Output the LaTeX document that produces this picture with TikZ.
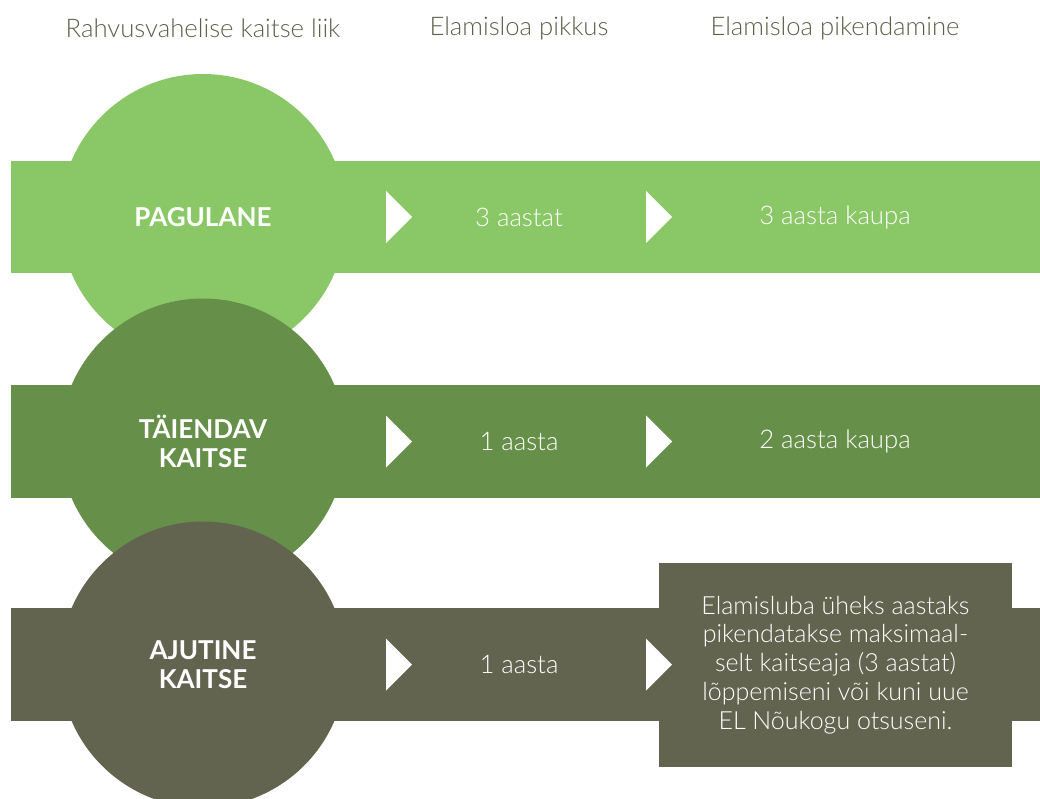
\documentclass[tikz,border=0pt]{standalone}
\usepackage{fontspec}
\setmainfont{Lato}
\IfFontExistsTF{Lato Light}{\newfontfamily\lightfont{Lato Light}}{\newfontfamily\lightfont{Lato}}
\usetikzlibrary{positioning}
\definecolor{cA}{HTML}{8AC767}
\definecolor{cB}{HTML}{668F4A}
\definecolor{cC}{HTML}{636450}
\definecolor{hd}{HTML}{5E5E4A}
\tikzset{
  band/.style={draw=none, inner sep=0pt, minimum width=1029pt, minimum height=112.5pt},
  disc/.style={circle, draw=none, inner sep=0pt, minimum size=286pt},
  head/.style={text=hd, font=\lightfont\fontsize{25.7}{29}\selectfont, inner sep=0pt},
  lab/.style={text=white, font=\fontsize{26}{29}\selectfont\bfseries, align=center, inner sep=0pt},
  val/.style={text=white, font=\lightfont\fontsize{25.7}{29}\selectfont, align=center, inner sep=0pt},
}
\begin{document}
\begin{tikzpicture}[x=1pt,y=-1pt]
\useasboundingbox (0,0) rectangle (1040,798);
\clip (0,0) rectangle (1040,798);
% headers
\node[head] (h1) at (203,28) {Rahvusvahelise kaitse liik};
\node[head] (h2) at (519,28) {Elamisloa pikkus};
\node[head] (h3) at (835,28) {Elamisloa pikendamine};
% bands
\node[band, fill=cA] (b1) at (525.5,217) {};
\node[band, fill=cB] (b2) at (525.5,441.5) {};
\node[band, fill=cC] (b3) at (525.5,664.5) {};
% discs
\node[disc, fill=cA] (d1) at (203,217) {};
\node[disc, fill=cB] (d2) at (203,441.5) {};
\node[disc, fill=cC] (d3) at (203,664.5) {};
% box row 3
\node[fill=cC, minimum width=353pt, minimum height=204pt, inner sep=0pt] (bx) at (835.5,665) {};
% triangles
\foreach \yy in {217,441.5,664.5}{
  \fill[white] (386,\yy-26) -- (412,\yy) -- (386,\yy+26) -- cycle;
  \fill[white] (646,\yy-26) -- (672,\yy) -- (646,\yy+26) -- cycle;
}
% labels
\node[lab] (l1) at (203,217) {PAGULANE};
\node[lab] (l2) at (203,441.5) {TÄIENDAV\\KAITSE};
\node[lab] (l3) at (203,664.5) {AJUTINE\\KAITSE};
% values
\node[val] (v1) at (519,217) {3 aastat};
\node[val] (w1) at (835,217) {3 aasta kaupa};
\node[val] (v2) at (519,441.5) {1 aasta};
\node[val] (w2) at (835,441.5) {2 aasta kaupa};
\node[val] (v3) at (519,664.5) {1 aasta};
\node[val, font=\lightfont\fontsize{25}{28.8}\selectfont] (w3) at (835.5,665) {Elamisluba üheks aastaks\\pikendatakse maksimaal-\\selt kaitseaja (3 aastat)\\lõppemiseni või kuni uue\\EL Nõukogu otsuseni.};
\end{tikzpicture}
\end{document}
